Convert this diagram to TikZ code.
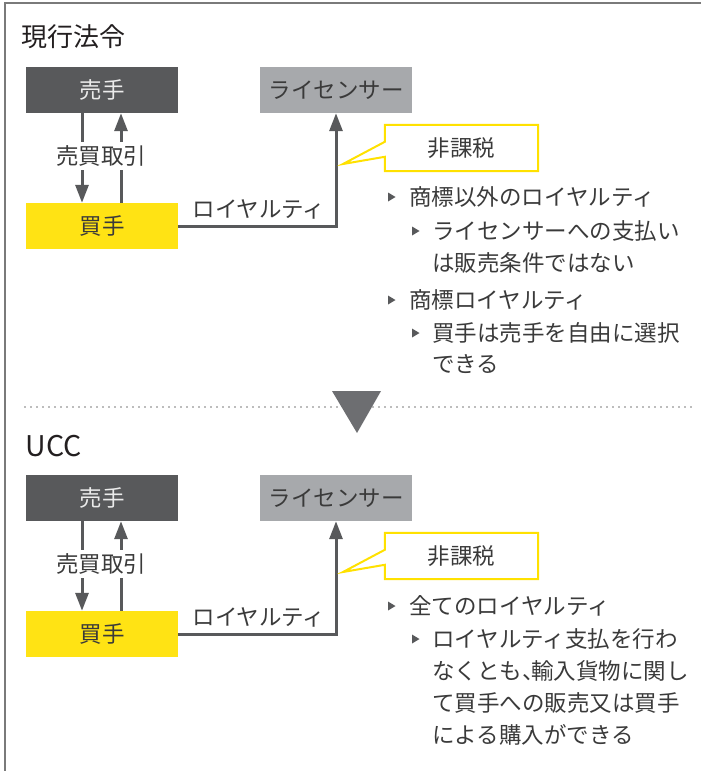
\documentclass[tikz,border=0pt]{standalone}
\usepackage{fontspec}
\setmainfont{Noto Sans CJK JP}
\usetikzlibrary{arrows.meta,calc}
\definecolor{dgray}{HTML}{58595B}
\definecolor{lgray}{HTML}{A7A9AC}
\definecolor{yel}{HTML}{FFE314}
\definecolor{cally}{HTML}{FFE100}
\definecolor{txt}{HTML}{3A3A3A}
\definecolor{titlec}{HTML}{231F20}
\definecolor{framec}{HTML}{7A7A7A}
\definecolor{dotc}{HTML}{7A7A7A}
\definecolor{trig}{HTML}{6D6E71}
\tikzset{
  box/.style={minimum width=152pt, minimum height=46pt, inner sep=0pt, font=\fontsize{22.5}{26}\selectfont},
  sellbox/.style={box, fill=dgray, text=white!92!black},
  licbox/.style={box, fill=lgray, text=txt},
  buybox/.style={box, fill=yel, text=txt},
  arr/.style={draw=dgray, line width=3pt, -{Triangle[length=18pt,width=13pt]}},
  lbl/.style={inner sep=0pt, text=txt, font=\fontsize{22.5}{26}\selectfont},
  callbox/.style={minimum width=153pt, minimum height=46pt, inner sep=0pt, text=txt, font=\fontsize{22.5}{26}\selectfont},
  callline/.style={draw=cally, line width=2pt, fill=white, line join=miter},
  ttl/.style={inner sep=0pt, text=titlec, font=\fontsize{26}{30}\selectfont, anchor=base west},
  btxt/.style={inner sep=0pt, text=txt, font=\fontsize{22.5}{26}\selectfont, anchor=base west},
  tri/.pic={\fill[dgray] (0,-4.5) -- (7.5,0) -- (0,4.5) -- cycle;}
}
\newcommand{\drawpanel}[2]{%
\begin{scope}[yshift=-#2pt]
  \node[sellbox] (#1sell) at (102,90) {売手};
  \node[buybox] (#1buy) at (102,226) {買手};
  \node[licbox] (#1lic) at (336,90) {ライセンサー};
  \coordinate (#1dx) at (82,0);
  \coordinate (#1ux) at (121,0);
  \draw[arr] (#1sell.south -| #1dx) -- (#1buy.north -| #1dx);
  \draw[arr] (#1buy.north -| #1ux) -- (#1sell.south -| #1ux);
  \node[lbl, fill=white, inner xsep=2pt, inner ysep=3.5pt] (#1trade) at (101,156) {売買取引};
  \draw[arr] (#1buy.east) -| (#1lic.south);
  \node[lbl] (#1roy) at (259,209) {ロイヤルティ};
  \node[callbox] (#1tax) at (461.5,148) {};
  \draw[callline] (#1tax.north west) -- (#1tax.north east) -- (#1tax.south east) -- (#1tax.south west)
     -- ($(#1tax.north west)+(0,32)$) -- (343,164) -- ($(#1tax.north west)+(0,17)$) -- cycle;
  \node[callbox] (#1taxt) at (#1tax.center) {非課税};
\end{scope}}
\begin{document}
\begin{tikzpicture}[x=1pt,y=-1pt]
  \useasboundingbox (0,0) rectangle (701,771);
  % frame
  \draw[framec, line width=1.5pt] (702,3) -- (5,3) -- (5,772);
  % upper panel
  \node[ttl] (t1) at (21,46.4) {現行法令};
  \drawpanel{a}{0}
  \pic at (388,197) {tri};
  \node[btxt] (a1) at (409,205.5) {商標以外のロイヤルティ};
  \pic at (412,231) {tri};
  \node[btxt] (a2) at (432,239.5) {ライセンサーへの支払い};
  \node[btxt] (a3) at (432,271.5) {は販売条件ではない};
  \pic at (388,300) {tri};
  \node[btxt] (a4) at (409,308.5) {商標ロイヤルティ};
  \pic at (412,333) {tri};
  \node[btxt] (a5) at (432,341.5) {買手は売手を自由に選択};
  \node[btxt] (a6) at (432,372.5) {できる};
  % separator
  \draw[dotc, line width=1.6pt, line cap=round, dash pattern=on 0pt off 6pt] (25,407) -- (694,407);
  \fill[trig] (332,391) -- (381,391) -- (357,433) -- cycle;
  % lower panel
  \node[ttl, font=\fontsize{28.5}{32}\selectfont] (t2) at (25.5,456) {UCC};
  \drawpanel{b}{408}
  \pic at (388,606) {tri};
  \node[btxt] (b1) at (409,614.5) {全てのロイヤルティ};
  \pic at (412,639) {tri};
  \node[btxt] (b2) at (432,647.5) {ロイヤルティ支払を行わ};
  \node[btxt] (b3) at (432,679.5) {なくとも\makebox[0.4em][l]{、}輸入貨物に関し};
  \node[btxt] (b4) at (432,711.5) {て買手への販売又は買手};
  \node[btxt] (b5) at (432,743.5) {による購入ができる};
\end{tikzpicture}
\end{document}
